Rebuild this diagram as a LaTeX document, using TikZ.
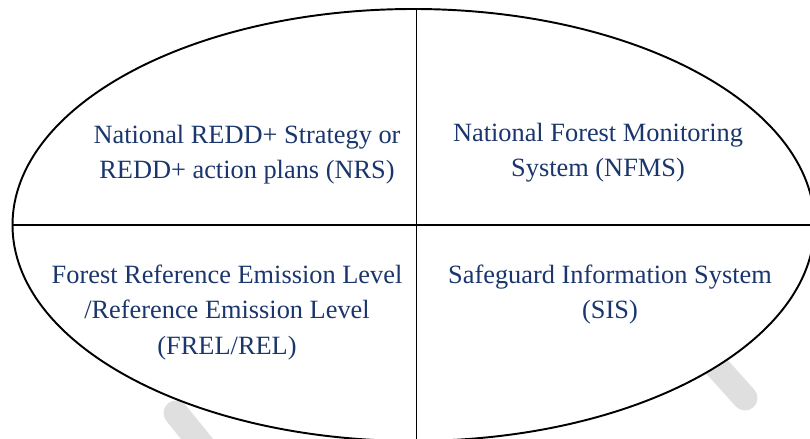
\documentclass[tikz,border=0pt]{standalone}
\usepackage{fontspec}
\setmainfont{Liberation Serif}
\usetikzlibrary{shapes,positioning}
\usepackage{xcolor}
\definecolor{textblue}{RGB}{26,54,108}

\begin{document}
\begin{tikzpicture}[quarter/.style={align=center, text=textblue, font=\fontsize{15}{20}\selectfont},
                    band/.style={line width=0.5cm, gray!25, line cap=round}]
            \useasboundingbox (0,0) rectangle (16.2,8.78);

            % Faint bands behind the oval
            \coordinate (leftbandtop) at (3.52,0.52);
            \coordinate (leftbandend) at (4.78,-1.04);
            \coordinate (rightbandtop) at (13.3,2.6);
            \coordinate (rightbandend) at (14.9,0.82);
            \draw[band] (leftbandtop) -- (leftbandend);
            \draw[band] (rightbandtop) -- (rightbandend);

            % Oval split in four
            \node[draw, ellipse, fill=white, line width=1.1pt, inner sep=0pt, minimum width=16.04cm, minimum height=8.64cm] (oval) at (8.27,4.28) {};
            \draw[line width=1.1pt] ([xshift=0.06cm]oval.north) -- ([xshift=0.06cm]oval.south);
            \draw[line width=1.1pt] (oval.west) -- (oval.east);

            % Labels
            \node[quarter] (nrs) at (4.94,5.68) {National REDD+ Strategy or\\REDD+ action plans (NRS)};
            \node[quarter] (nfms) at (11.96,5.72) {National Forest Monitoring\\System (NFMS)};
            \node[quarter] (frel) at (4.54,2.53) {Forest Reference Emission Level\\/Reference Emission Level\\(FREL/REL)};
            \node[quarter] (sis) at (12.2,2.89) {Safeguard Information System\\(SIS)};
        \end{tikzpicture}
\end{document}
